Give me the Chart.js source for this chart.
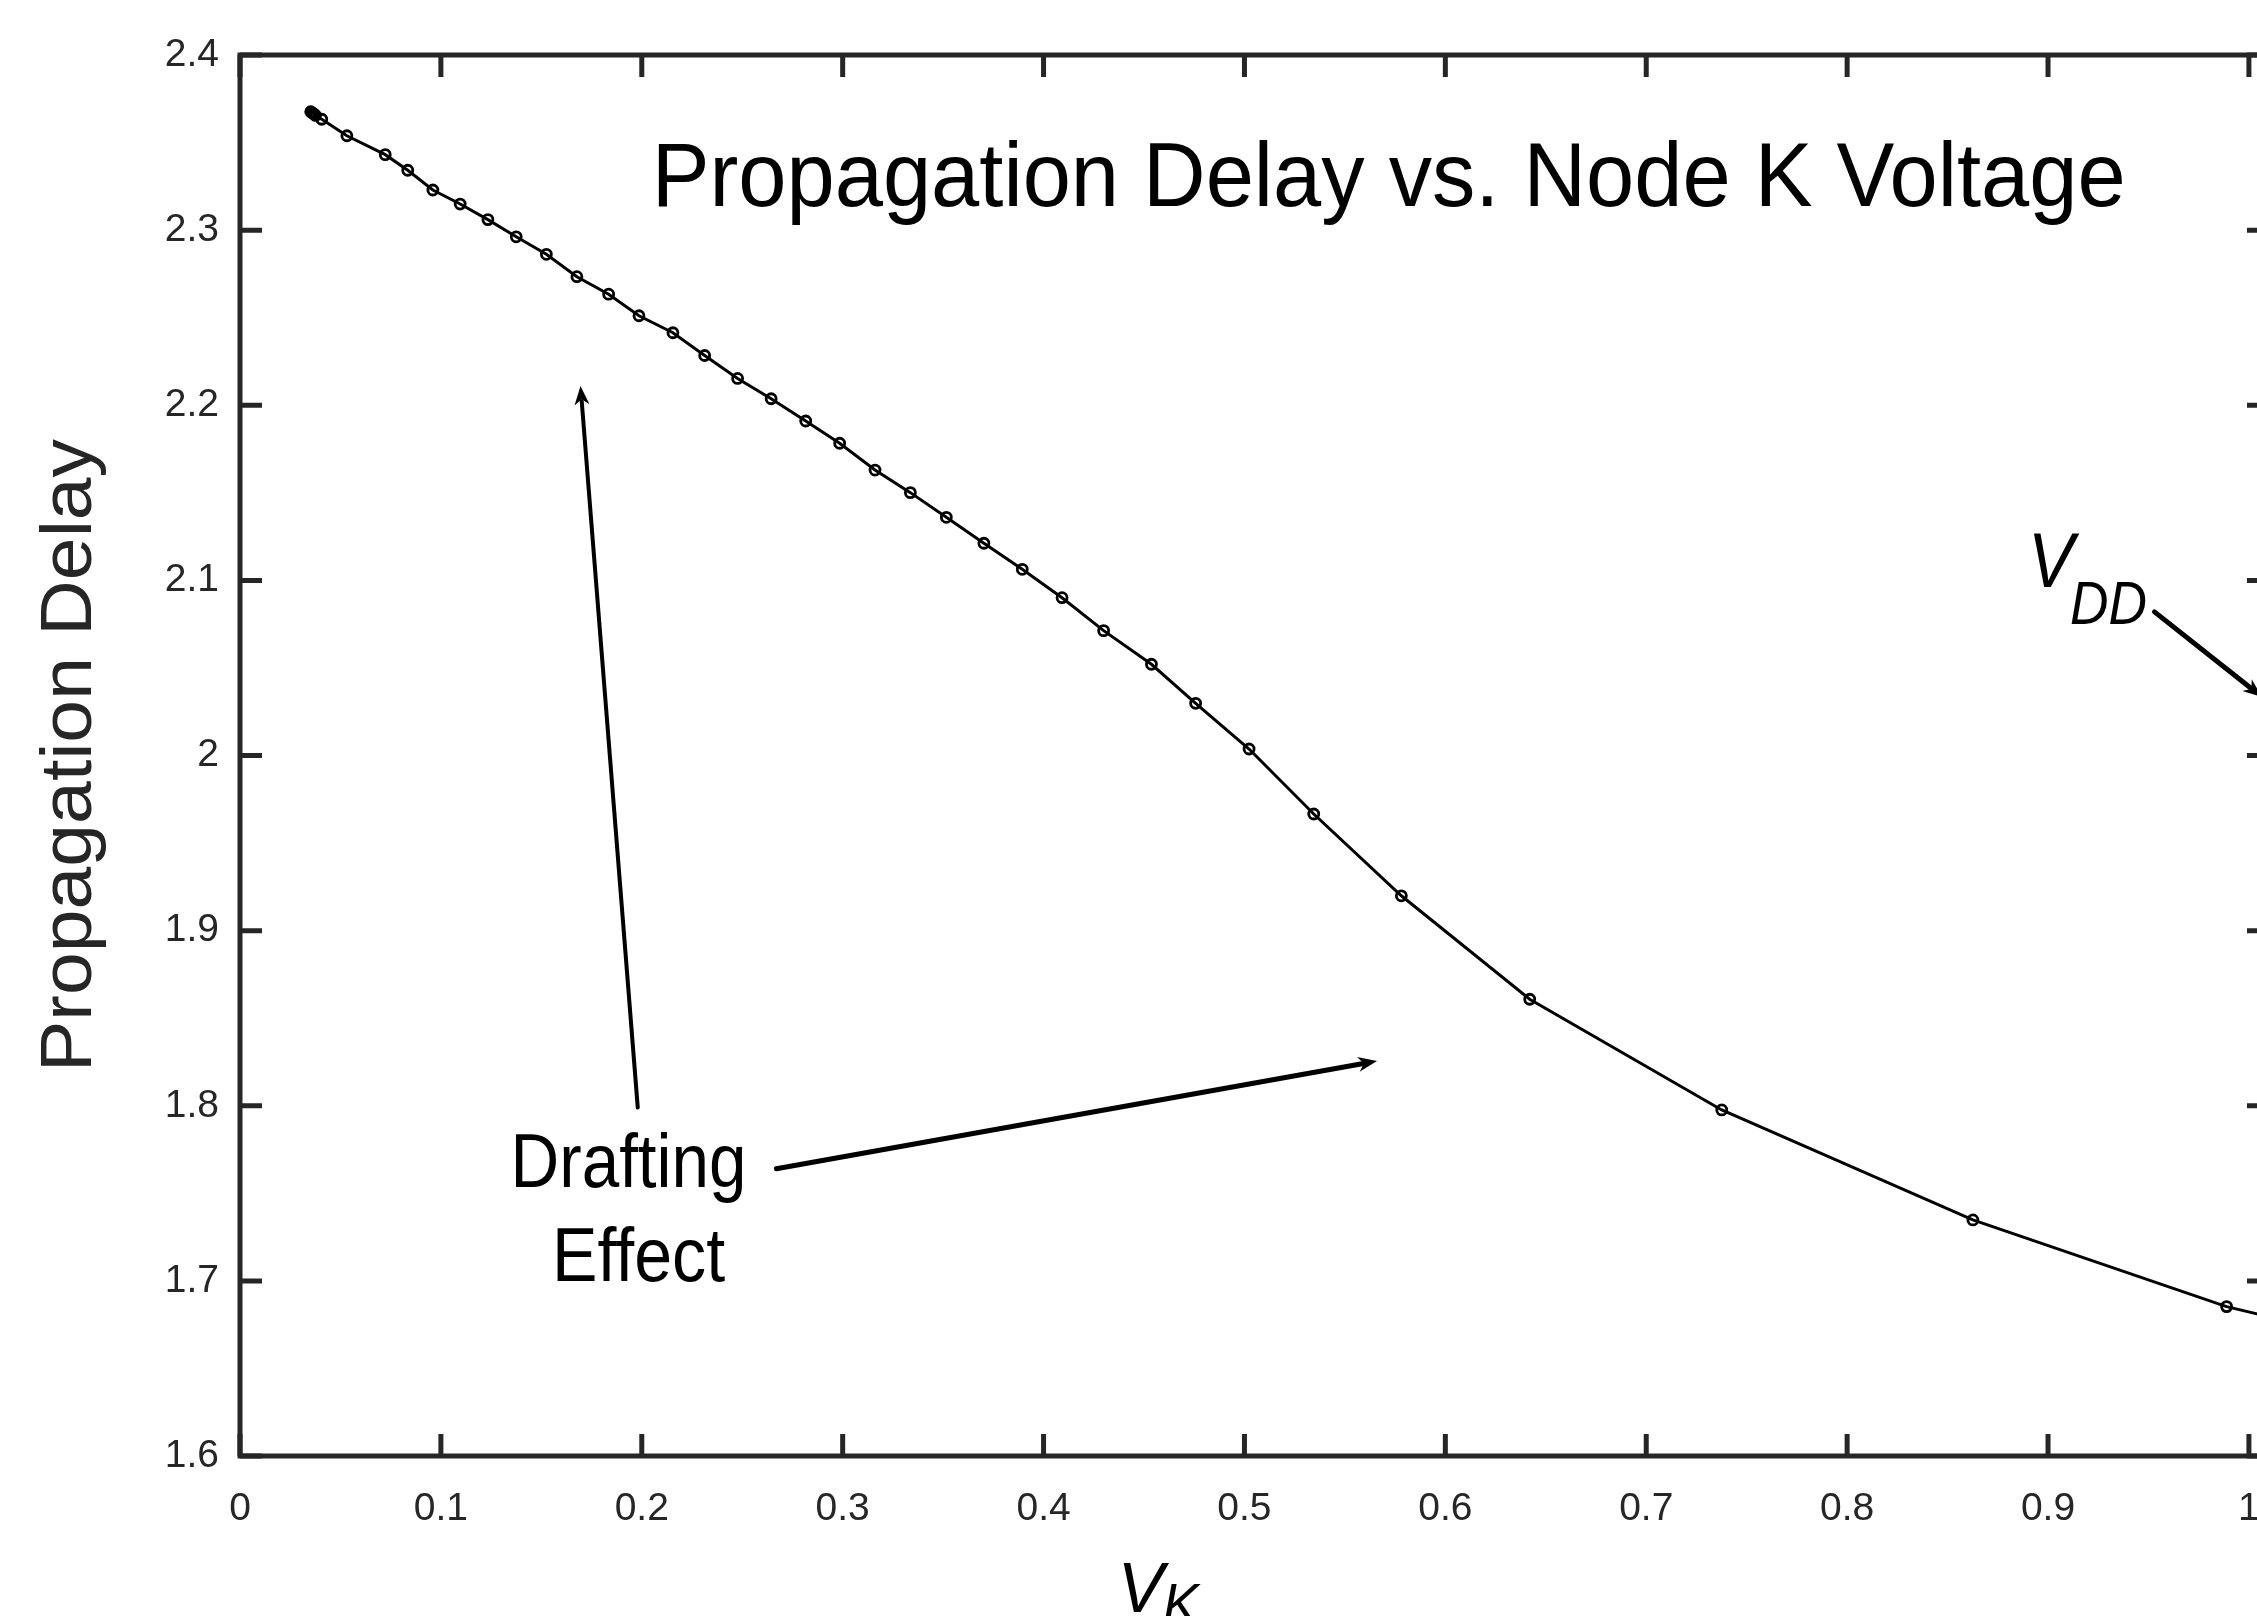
<!DOCTYPE html>
<html>
<head>
<meta charset="utf-8">
<script src="https://cdn.jsdelivr.net/npm/chart.js@4/dist/chart.umd.min.js"></script>
<style>
  html, body { margin: 0; padding: 0; background: #fff; overflow: hidden; }
  #wrap { position: relative; width: 2290px; height: 1616px; }
</style>
</head>
<body>
<div id="wrap"><canvas id="delayChart"></canvas></div>
<script>
// V_K values (x) and propagation delay (y)
const vk = [0.0352, 0.0360, 0.0368, 0.0376, 0.0407, 0.0532, 0.0723, 0.0835, 0.0960, 0.1096,
  0.1234, 0.1375, 0.1525, 0.1677, 0.1835, 0.1986, 0.2155, 0.2313, 0.2477, 0.2644,
  0.2816, 0.2985, 0.3161, 0.3337, 0.3516, 0.3703, 0.3894, 0.4092, 0.4299, 0.4537,
  0.4757, 0.5023, 0.5345, 0.5781, 0.6420, 0.7376, 0.8626, 0.9889, 1.1000];
const delay = [2.3676, 2.3670, 2.3663, 2.3655, 2.3633, 2.3539, 2.3431, 2.3342, 2.3229, 2.3149,
  2.3060, 2.2962, 2.2862, 2.2734, 2.2634, 2.2511, 2.2414, 2.2284, 2.2153, 2.2037,
  2.1910, 2.1783, 2.1630, 2.1501, 2.1360, 2.1212, 2.1063, 2.0901, 2.0713, 2.0521,
  2.0298, 2.0037, 1.9666, 1.9199, 1.8608, 1.7976, 1.7348, 1.6853, 1.6550];

const xTicks = [0, 0.1, 0.2, 0.3, 0.4, 0.5, 0.6, 0.7, 0.8, 0.9, 1];
const yTicks = [1.6, 1.7, 1.8, 1.9, 2.0, 2.1, 2.2, 2.3, 2.4];

const chartTitle = "Propagation Delay vs. Node K Voltage";
const yLabel = "Propagation Delay";

// text notes placed in data units
const notes = [
  { text: chartTitle, x: 0.5718, y: 2.3138, size: 90, italic: false, width: 1474, align: "center" },
  { text: "Drafting", x: 0.1934, y: 1.7536, size: 76, italic: false, width: 236, align: "center" },
  { text: "Effect", x: 0.1984, y: 1.6999, size: 76, italic: false, width: 173, align: "center" },
  { text: "V", x: 0.8900, y: 2.0962, size: 77, italic: true, width: 46, align: "left" },
  { text: "DD", x: 0.9109, y: 2.0751, size: 61, italic: true, width: 77, align: "left" },
  { text: "V", x: 0.4369, y: 1.5109, size: 70, italic: true, width: 46, align: "left" },
  { text: "K", x: 0.4593, y: 1.5040, size: 58, italic: true, width: 36, align: "left" },
];

// arrows: tail -> head, data units
const arrows = [
  { from: [0.198, 1.799], to: [0.1695, 2.211], lw: 4 },
  { from: [0.267, 1.764], to: [0.566, 1.8255], lw: 5 },
  { from: [0.953, 2.082], to: [1.0065, 2.0334], lw: 5 },
];

const axisColor = "#262626";
const fontFamily = '"Liberation Sans", Arial, Helvetica, sans-serif';

const drawText = (ctx, t, px, py) => {
  ctx.save();
  ctx.font = `${t.italic ? "italic " : ""}${t.size}px ${fontFamily}`;
  const w = ctx.measureText(t.text).width;
  const sx = t.width ? t.width / w : 1;
  ctx.translate(px, py);
  ctx.scale(sx, 1);
  ctx.textAlign = t.align;
  ctx.textBaseline = "alphabetic";
  ctx.fillStyle = "#000";
  ctx.fillText(t.text, 0, 0);
  ctx.restore();
};

const drawArrow = (ctx, x1, y1, x2, y2, lw) => {
  const ang = Math.atan2(y2 - y1, x2 - x1);
  const hl = 19, hw = 7.5;
  ctx.save();
  ctx.strokeStyle = "#000";
  ctx.fillStyle = "#000";
  ctx.lineWidth = lw;
  ctx.lineCap = "round";
  ctx.beginPath();
  ctx.moveTo(x1, y1);
  ctx.lineTo(x2 - Math.cos(ang) * hl * 0.8, y2 - Math.sin(ang) * hl * 0.8);
  ctx.stroke();
  ctx.beginPath();
  ctx.moveTo(x2, y2);
  ctx.lineTo(x2 - Math.cos(ang) * hl - Math.sin(ang) * hw, y2 - Math.sin(ang) * hl + Math.cos(ang) * hw);
  ctx.lineTo(x2 - Math.cos(ang) * hl * 0.7, y2 - Math.sin(ang) * hl * 0.7);
  ctx.lineTo(x2 - Math.cos(ang) * hl + Math.sin(ang) * hw, y2 - Math.sin(ang) * hl - Math.cos(ang) * hw);
  ctx.closePath();
  ctx.fill();
  ctx.restore();
};

const frameAndNotes = {
  id: "frameAndNotes",
  afterDatasetsDraw(chart) {
    const { ctx, chartArea: a, scales } = chart;
    const xs = scales.x, ys = scales.y;
    const tl = 22;

    ctx.save();
    ctx.strokeStyle = axisColor;
    ctx.lineWidth = 5;
    ctx.lineCap = "butt";
    ctx.beginPath();
    xTicks.forEach((v) => {
      const px = xs.getPixelForValue(v);
      ctx.moveTo(px, a.bottom); ctx.lineTo(px, a.bottom - tl);
      ctx.moveTo(px, a.top); ctx.lineTo(px, a.top + tl);
    });
    yTicks.forEach((v) => {
      const py = ys.getPixelForValue(v);
      ctx.moveTo(a.left, py); ctx.lineTo(a.left + tl, py);
      ctx.moveTo(a.right, py); ctx.lineTo(a.right - tl, py);
    });
    ctx.stroke();
    ctx.strokeRect(a.left, a.top, a.right - a.left, a.bottom - a.top);
    ctx.restore();

    notes.forEach((t) => drawText(ctx, t, xs.getPixelForValue(t.x), ys.getPixelForValue(t.y)));
    arrows.forEach((ar) => drawArrow(ctx,
      xs.getPixelForValue(ar.from[0]), ys.getPixelForValue(ar.from[1]),
      xs.getPixelForValue(ar.to[0]), ys.getPixelForValue(ar.to[1]), ar.lw));

    // y axis title, rotated
    ctx.save();
    ctx.font = `72px ${fontFamily}`;
    const w = ctx.measureText(yLabel).width;
    ctx.translate(xs.getPixelForValue(-0.0839), ys.getPixelForValue(2.0));
    ctx.rotate(-Math.PI / 2);
    ctx.scale(633 / w, 1);
    ctx.textAlign = "center";
    ctx.textBaseline = "middle";
    ctx.fillStyle = axisColor;
    ctx.fillText(yLabel, 0, 0);
    ctx.restore();
  },
};

const ctx = document.getElementById("delayChart").getContext("2d");
new Chart(ctx, {
  type: "line",
  data: {
    datasets: [
      {
        data: vk.map((v, i) => ({ x: v, y: delay[i] })),
        borderColor: "#000",
        borderWidth: 3,
        pointStyle: "circle",
        pointRadius: 5,
        pointBorderWidth: 2.8,
        pointBorderColor: "#000",
        pointBackgroundColor: "rgba(255,255,255,0)",
        tension: 0,
      },
    ],
  },
  options: {
    responsive: true,
    maintainAspectRatio: false,
    devicePixelRatio: 1,
    animation: false,
    layout: { padding: { top: 55, right: 21, left: 0, bottom: 0 } },
    plugins: { legend: { display: false }, tooltip: { enabled: false } },
    scales: {
      x: {
        type: "linear",
        min: 0,
        max: 1.01,
        grid: { display: false },
        border: { display: false },
        afterBuildTicks: (s) => { s.ticks = xTicks.map((v) => ({ value: v })); },
        afterFit: (s) => { s.height = 160; },
        ticks: {
          padding: 22,
          maxRotation: 0,
          autoSkip: false,
          color: axisColor,
          font: { family: fontFamily, size: 39 },
          callback: (v) => String(+Number(v).toFixed(1)),
        },
      },
      y: {
        type: "linear",
        min: 1.6,
        max: 2.4,
        grid: { display: false },
        border: { display: false },
        afterBuildTicks: (s) => { s.ticks = yTicks.map((v) => ({ value: v })); },
        afterFit: (s) => { s.width = 240; },
        ticks: {
          padding: 13,
          autoSkip: false,
          color: axisColor,
          font: { family: fontFamily, size: 39 },
          callback: (v) => String(+Number(v).toFixed(1)),
        },
      },
    },
  },
  plugins: [frameAndNotes],
});
</script>
</body>
</html>
